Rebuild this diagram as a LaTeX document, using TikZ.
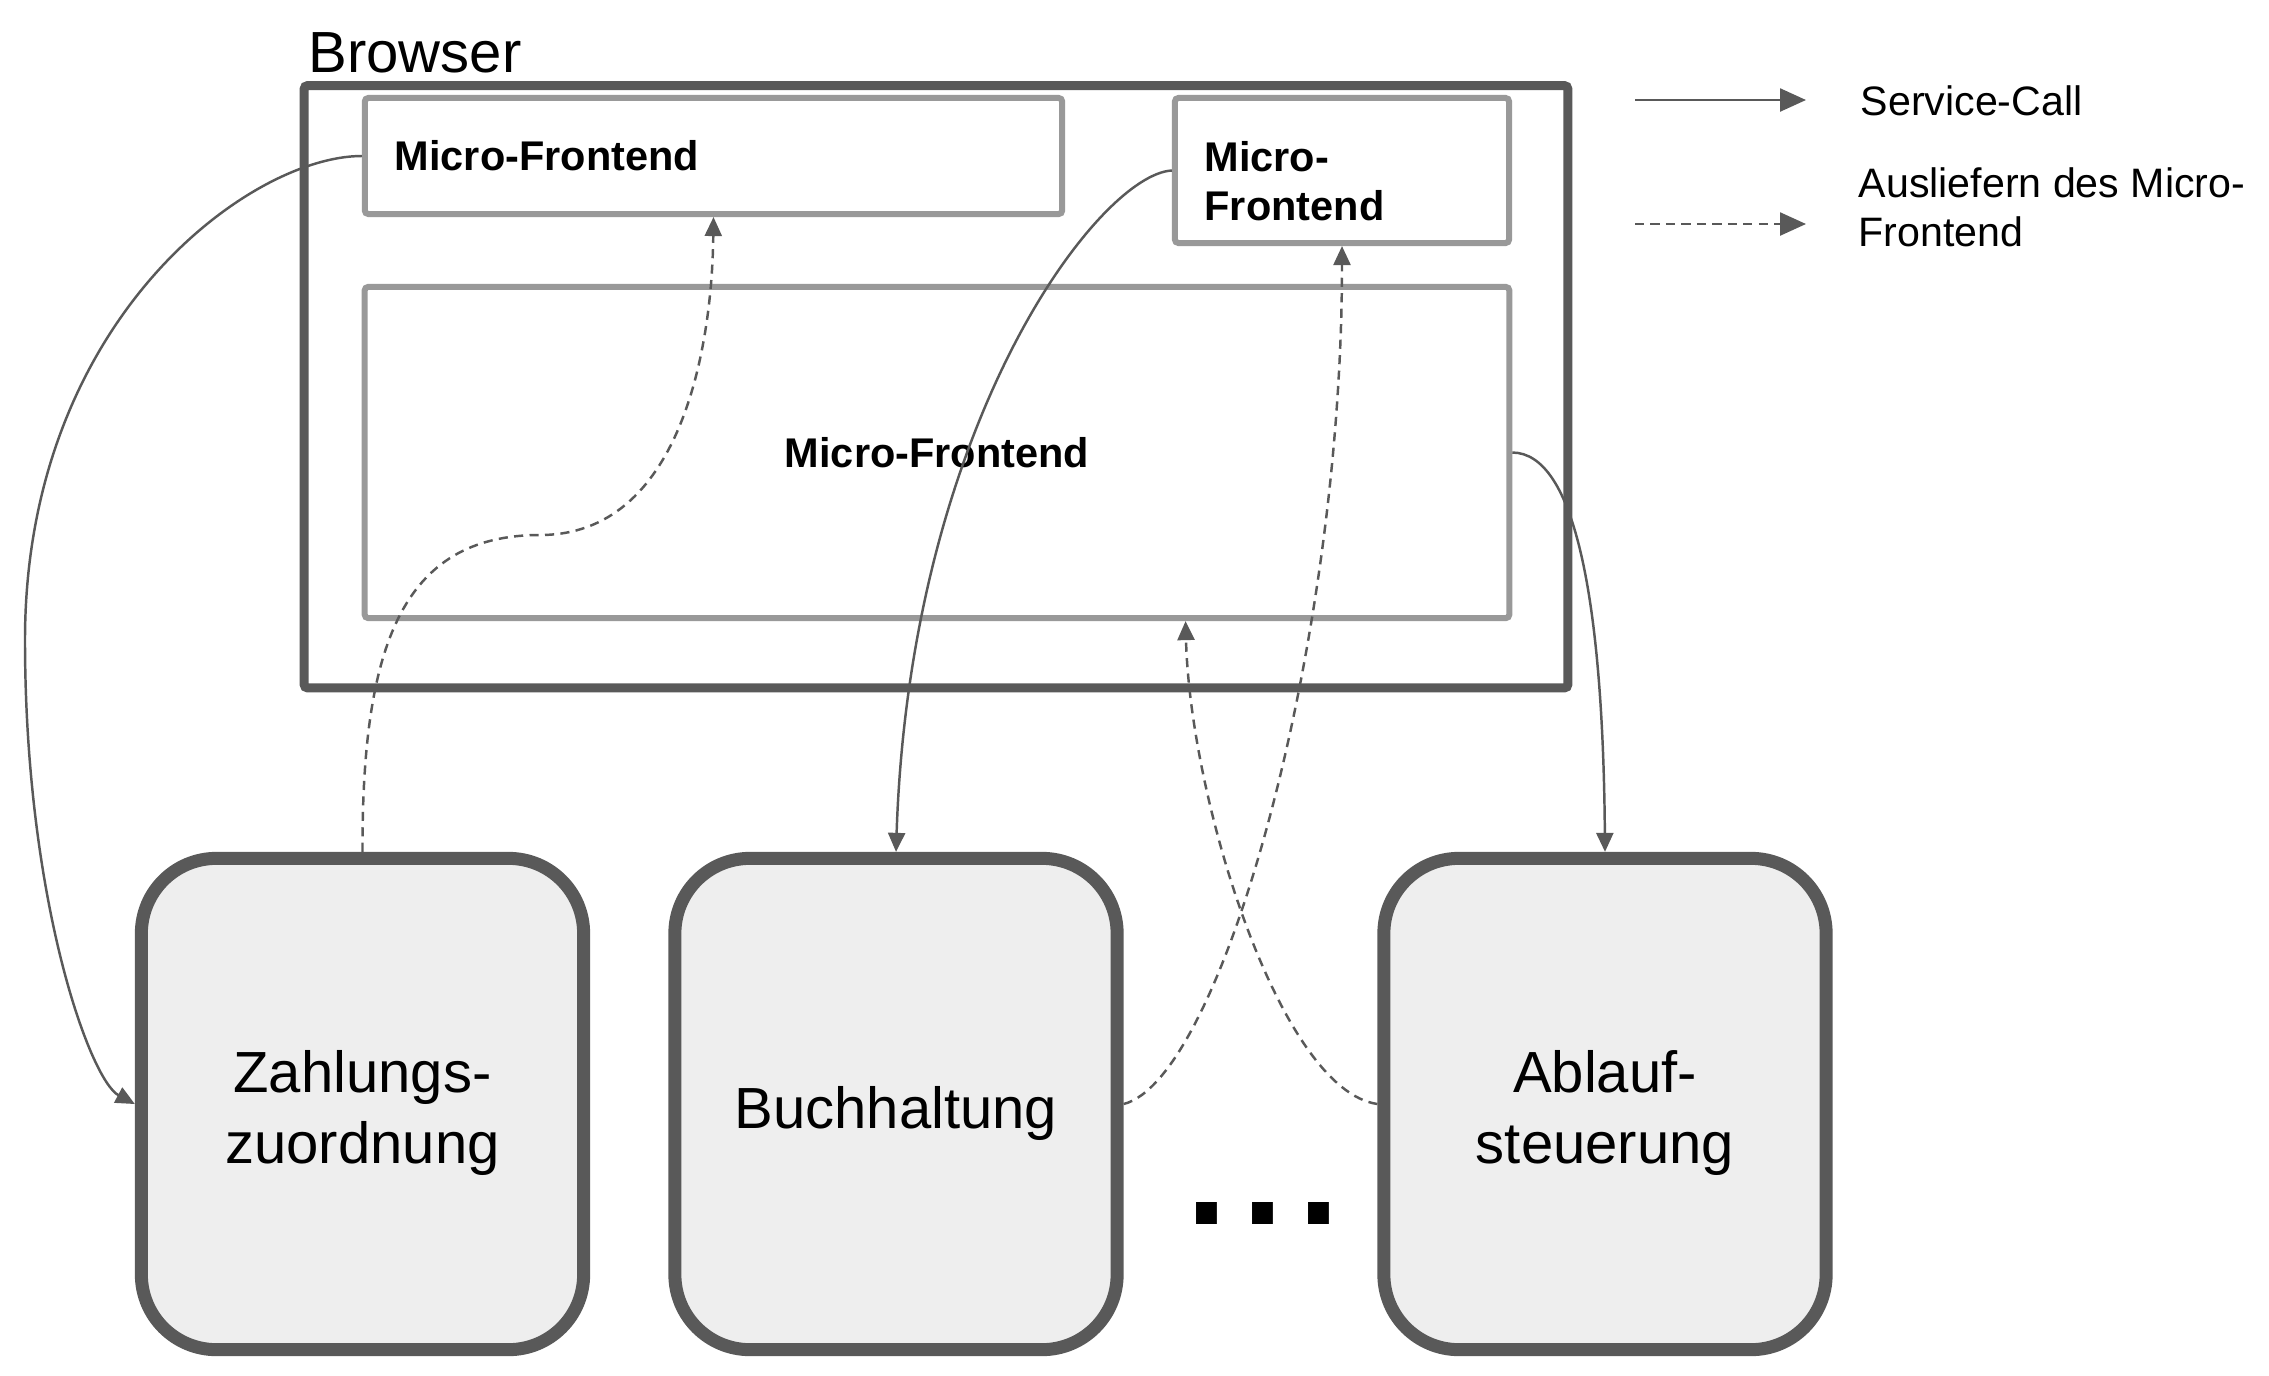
\documentclass[tikz,border=0pt]{standalone}
\usepackage{fontspec}
\setmainfont{Liberation Sans}
\usepackage{tikz}
\usetikzlibrary{arrows.meta,positioning,calc}

\definecolor{darkline}{HTML}{595959}
\definecolor{lightline}{HTML}{999999}
\definecolor{boxfill}{HTML}{EEEEEE}

\begin{document}
\begin{tikzpicture}[x=0.01cm, y=-0.01cm]
        % Define styles
        \tikzset{
            frontend/.style={draw=lightline, line width=0.06cm, rounded corners=1pt, fill=white, font=\fontsize{11.8}{13.9}\selectfont\bfseries},
            frontendtext/.style={inner sep=0pt, align=left, font=\fontsize{11.8}{13.9}\selectfont\bfseries},
            service/.style={draw=darkline, line width=0.13cm, rounded corners=0.75cm, fill=boxfill, minimum width=4.42cm, minimum height=4.91cm},
            servicetext/.style={align=center, inner sep=0pt, font=\fontsize{16.5}{20.2}\selectfont},
            arrow/.style={-{Triangle[length=0.19cm, width=0.17cm]}, darkline, line width=0.7pt},
            deliver/.style={arrow, dash pattern=on 2.6pt off 1.8pt},
            legendarrow/.style={-{Triangle[length=0.26cm, width=0.23cm]}, darkline, line width=0.7pt},
            legendtext/.style={anchor=west, align=left, inner sep=0pt, font=\fontsize{11.7}{13.9}\selectfont}
        }
        \useasboundingbox (0,0) rectangle (2269,1375);

        % Place nodes
        \node[draw=darkline, line width=0.09cm, rounded corners=1pt, minimum width=12.63cm, minimum height=6.02cm] (browser) at (936,386.75) {};
        \node[anchor=base west, inner sep=0pt, font=\fontsize{16.5}{19.3}\selectfont] (browserlabel) at (308,72) {Browser};

        \node[frontend, text width=6.37cm, inner xsep=0.3cm, minimum height=1.16cm, align=left] (mf1) at (713.5,156) {Micro-Frontend};
        \node[frontend, minimum width=3.34cm, minimum height=1.45cm] (mf2) at (1342,170.5) {};
        \node[frontendtext, below right=0.46cm and 0.32cm of mf2.north west] (mf2label) {Micro-\\Frontend};
        \node[frontend, minimum width=11.44cm, minimum height=3.31cm] (mf3) at (937,452.5) {Micro-Frontend};
        \node[coordinate] (mf3in) at ($(mf3.south west)!0.716!(mf3.south east)$) {};

        \node[service] (zahlung) at (362.5,1104) {};
        \node[service] (buchhaltung) at (896,1104) {};
        \node[service] (ablauf) at (1605,1104) {};
        \node[servicetext, below=0.09cm of zahlung.center, anchor=center] (zahlungtext) {Zahlungs-\\zuordnung};
        \node[servicetext, below=0.09cm of buchhaltung.center, anchor=center] (buchhaltungtext) {Buchhaltung};
        \node[servicetext, below=0.09cm of ablauf.center, anchor=center] (ablauftext) {Ablauf-\\steuerung};
        \node[anchor=base, inner sep=0pt, font=\fontsize{42}{50}\selectfont\bfseries] (more) at (1263,1224) {.\hspace{0.15cm}.\hspace{0.15cm}.};

        % Legend
        \node[coordinate] (callstart) at (1635,100) {};
        \node[coordinate] (callend) at (1806,100) {};
        \node[coordinate] (deliverstart) at (1635,224) {};
        \node[coordinate] (deliverend) at (1806,224) {};
        \node[legendtext] (calltext) at (1860,101) {Service-Call};
        \node[legendtext] (delivertext) at (1858,207) {Ausliefern des Micro-\\Frontend};
        \draw[legendarrow] (callstart) -- (callend);
        \draw[legendarrow, dash pattern=on 2.6pt off 1.8pt] (deliverstart) -- (deliverend);

        % Draw arrows
        \draw[arrow] (mf1.west) .. controls (250,156) and (25,320) .. (25,640) .. controls (25,900) and (90,1080) .. (zahlung.west);
        \draw[deliver] (zahlung.north) .. controls (362,650) and (400,535) .. (540,535) .. controls (680,535) and (712,350) .. (mf1.south);
        \draw[arrow] (mf2.west) .. controls (1100,174) and (910,420) .. (buchhaltung.north);
        \draw[arrow] (mf3.east) .. controls (1575,453) and (1603,600) .. (ablauf.north);
        \draw[deliver] (buchhaltung.east) .. controls (1220,1080) and (1342,650) .. (mf2.south);
        \draw[deliver] (ablauf.west) .. controls (1280,1090) and (1190,800) .. (mf3in);
    \end{tikzpicture}
\end{document}
